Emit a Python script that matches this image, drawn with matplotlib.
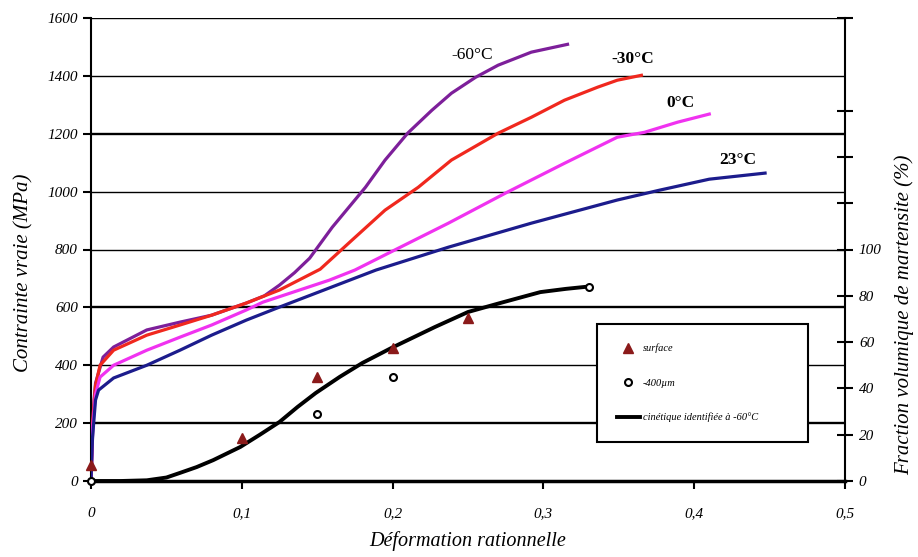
from matplotlib import pyplot as plt
import numpy as np

# true stress-strain curves (MPa)
x_m60 = [0, 0.001, 0.002, 0.003, 0.008, 0.015, 0.037, 0.059, 0.08, 0.103, 0.115, 0.125, 0.135, 0.145,
         0.16, 0.182, 0.195, 0.21, 0.226, 0.239, 0.255, 0.27, 0.292, 0.316]
y_m60 = [0, 150, 280, 338, 428, 463, 522, 549, 573, 615, 640, 677, 720, 770,
         877, 1015, 1109, 1202, 1281, 1340, 1395, 1437, 1482, 1509]

x_m30 = [0, 0.001, 0.003, 0.006, 0.015, 0.037, 0.059, 0.08, 0.103, 0.125, 0.152, 0.173, 0.195,
         0.217, 0.239, 0.27, 0.292, 0.314, 0.336, 0.349, 0.365]
y_m30 = [0, 200, 330, 400, 452, 504, 539, 573, 615, 660, 732, 832, 936,
         1015, 1109, 1202, 1257, 1316, 1361, 1385, 1402]

x_0 = [0, 0.001, 0.003, 0.006, 0.015, 0.037, 0.059, 0.08, 0.103, 0.114, 0.158, 0.175, 0.204,
       0.237, 0.276, 0.314, 0.349, 0.367, 0.389, 0.41]
y_0 = [0, 180, 300, 359, 400, 452, 497, 539, 591, 618, 694, 729, 805,
       891, 998, 1098, 1188, 1205, 1240, 1268]

x_23 = [0, 0.001, 0.003, 0.005, 0.015, 0.037, 0.059, 0.08, 0.103, 0.125, 0.158, 0.189, 0.237,
        0.292, 0.349, 0.377, 0.41, 0.447]
y_23 = [0, 150, 280, 314, 356, 400, 452, 504, 556, 601, 667, 729, 808,
        891, 971, 1005, 1043, 1064]

# martensite fraction (%)
x_kin = [0, 0.02, 0.037, 0.05, 0.059, 0.07, 0.081, 0.099, 0.112, 0.125, 0.137, 0.149, 0.165,
         0.18, 0.199, 0.228, 0.25, 0.272, 0.298, 0.315, 0.33]
f_kin = [0, 0, 0.3, 1.5, 3.5, 6, 9, 14.7, 20, 25.5, 32, 38, 45,
         51, 57.4, 66.5, 73, 77, 81.6, 83, 84]

x_surf = [0, 0.1, 0.15, 0.2, 0.25]
f_surf = [7, 18.6, 45, 57.5, 70.4]

x_400 = [0, 0.15, 0.2, 0.33]
f_400 = [0, 29, 45, 84]

x_ticks = [0, 0.1, 0.2, 0.3, 0.4, 0.5]
x_ticklabels = ["0", "0,1", "0,2", "0,3", "0,4", "0,5"]
y_ticks = [0, 200, 400, 600, 800, 1000, 1200, 1400, 1600]
f_ticks = [0, 20, 40, 60, 80, 100, 120, 140, 160, 200]

curve_labels = [("-60°C", 0.253, 1471, "normal"),
                ("-30°C", 0.359, 1458, "bold"),
                ("0°C", 0.391, 1306, "bold"),
                ("23°C", 0.429, 1109, "bold")]

plt.rcParams['font.family'] = ['Liberation Serif', 'DejaVu Serif']

fig = plt.figure(figsize=(9.18, 5.57), dpi=100)
ax = fig.add_axes([91/918, 76/557, 754/918, 463/557])

# horizontal grid, some lines look heavier in the original
heavy = [200, 600, 1200]
for v in y_ticks[1:]:
    ax.axhline(v, color='black', lw=1.7 if v in heavy else 1.0, zorder=1)

ax.plot(x_m60, y_m60, color='#7d1f9a', lw=2.3, zorder=3)
ax.plot(x_m30, y_m30, color='#f0281e', lw=2.3, zorder=3)
ax.plot(x_0, y_0, color='#f032f0', lw=2.3, zorder=3)
ax.plot(x_23, y_23, color='#1c1c8c', lw=2.3, zorder=3)

for txt, tx, ty, w in curve_labels:
    ax.text(tx, ty, txt, ha='center', va='center', fontsize=12.5, fontweight=w, zorder=5)

ax.set_xlim(0, 0.5)
ax.set_ylim(0, 1600)
ax.set_xticks(x_ticks)
ax.set_xticklabels(x_ticklabels)
ax.set_yticks(y_ticks)
ax.tick_params(axis='both', labelsize=11, width=1.5, length=6, color='black')
ax.tick_params(axis='x', pad=13)
for lab in ax.get_xticklabels() + ax.get_yticklabels():
    lab.set_fontstyle('italic')
ax.spines['top'].set_visible(False)
ax.spines['right'].set_visible(False)
ax.spines['left'].set_linewidth(1.5)
ax.spines['bottom'].set_linewidth(2.5)
ax.set_xlabel("Déformation rationnelle", fontsize=14.5, fontstyle='italic', labelpad=8)
ax.set_ylabel("Contrainte vraie (MPa)", fontsize=15, fontstyle='italic')
ax.yaxis.set_label_coords(-0.076, 0.45)

ax2 = ax.twinx()
ax2.set_ylim(0, 200)
ax2.set_yticks(f_ticks)
ax2.set_yticklabels([str(v) if v <= 100 else "" for v in f_ticks])
ax2.tick_params(axis='y', direction='inout', length=12, width=1.5, labelsize=11, pad=4)
for lab in ax2.get_yticklabels():
    lab.set_fontstyle('italic')
for s in ['top', 'left', 'bottom']:
    ax2.spines[s].set_visible(False)
ax2.spines['right'].set_linewidth(1.5)
ax2.set_ylabel("Fraction volumique de martensite (%)", fontsize=15, fontstyle='italic')
ax2.yaxis.set_label_coords(1.066, 0.36)

ax2.plot(x_kin, f_kin, color='black', lw=2.8, zorder=3, label="cinétique identifiée à -60°C",
         clip_on=False)
ax2.plot(x_surf, f_surf, ls='none', marker='^', ms=7, color='#8b1a1a', zorder=4,
         label="surface", clip_on=False)
ax2.plot(x_400, f_400, ls='none', marker='o', ms=5, mfc='white', mec='black', mew=1.5,
         zorder=4, label="-400µm", clip_on=False)

h, l = ax2.get_legend_handles_labels()
leg = ax2.legend([h[1], h[2], h[0]], [l[1], l[2], l[0]], loc='lower left',
                 bbox_to_anchor=(0.671, 0.084, 0.28, 0.253), mode='expand', borderaxespad=0,
                 fancybox=False, edgecolor='black', framealpha=1,
                 prop={'style': 'italic', 'size': 7.5}, labelspacing=2.4, borderpad=1.9,
                 handlelength=2.2, handletextpad=0.3)
leg.get_frame().set_linewidth(1.5)

plt.savefig("out.png", dpi=100)
